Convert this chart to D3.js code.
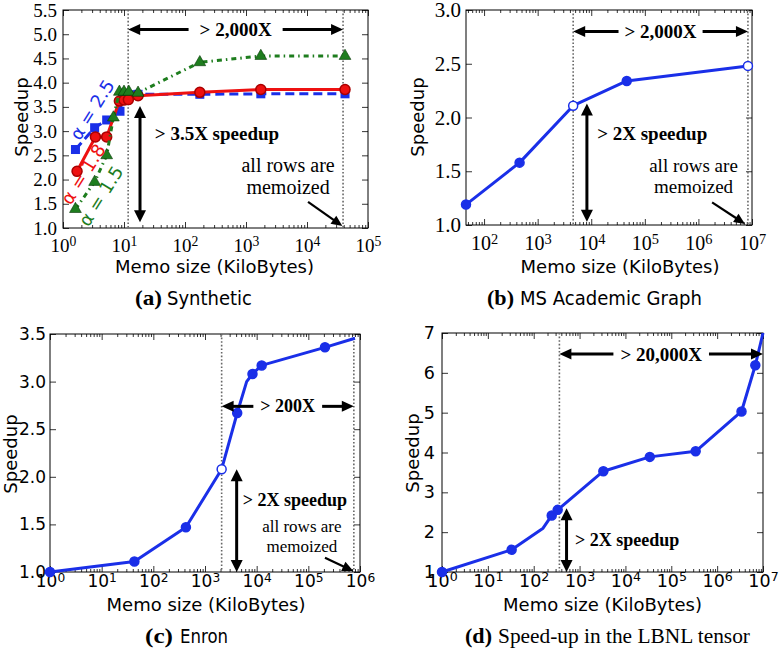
<!DOCTYPE html>
<html><head><meta charset="utf-8">
<script src="https://cdn.jsdelivr.net/npm/d3@7/dist/d3.min.js"></script>
<style>body{margin:0;background:#fff}</style>
</head><body>
<svg id="fig" width="780" height="653" xmlns="http://www.w3.org/2000/svg"></svg>
<script>
// ---------------- DATA ----------------
// (a) Synthetic: three Zipf skews
const synthX25 = [1.6, 3.3, 5.2, 8.6, 9.6, 11, 13, 17, 175, 1750, 42000];
const synthY25 = [2.62, 3.07, 3.23, 3.41, 3.74, 3.75, 3.75, 3.76, 3.76, 3.77, 3.77];
const synthX18 = [1.7, 3.4, 5.2, 8.4, 10, 11.8, 17, 175, 1750, 42000];
const synthY18 = [2.17, 2.88, 2.88, 3.62, 3.64, 3.65, 3.73, 3.80, 3.86, 3.86];
const synthX15 = [1.6, 3.3, 5.2, 6.7, 8.4, 10, 12, 17, 175, 1750, 42000];
const synthY15 = [1.39, 1.95, 2.5, 3.28, 3.81, 3.81, 3.81, 3.79, 4.42, 4.55, 4.55];
// (b) MS Academic Graph
const msagX = [46, 460, 4600, 46000, 8.4e6];
const msagY = [1.19, 1.58, 2.11, 2.34, 2.48];
// (c) Enron
const enronX = [1, 43, 427, 2100, 4200, 6400, 8300, 12500, 2.1e5, 8e5];
const enronY = [1.0, 1.11, 1.47, 2.08, 2.67, 3.0, 3.08, 3.17, 3.36, 3.455];
const enronMarkX = [1, 43, 427, 2100, 4200, 8300, 12500, 2.1e5];
const enronMarkY = [1.0, 1.11, 1.47, 2.08, 2.67, 3.08, 3.17, 3.36];
// (d) LBNL tensor
const lbnlX = [1, 33, 160, 247, 333, 3300, 34000, 3.4e5, 3.4e6, 6.8e6, 1e7];
const lbnlY = [1.0, 1.56, 2.10, 2.42, 2.56, 3.53, 3.89, 4.03, 5.03, 6.19, 7.0];
const lbnlMarkX = [1, 33, 247, 333, 3300, 34000, 3.4e5, 3.4e6, 6.8e6];
const lbnlMarkY = [1.0, 1.56, 2.42, 2.56, 3.53, 3.89, 4.03, 5.03, 6.19];
// tick labels
const yTicksA = [1.0, 1.5, 2.0, 2.5, 3.0, 3.5, 4.0, 4.5, 5.0, 5.5];
const yTicksB = [1.0, 1.5, 2.0, 2.5, 3.0];
const yTicksC = [1.0, 1.5, 2.0, 2.5, 3.0, 3.5];
const yTicksD = [1, 2, 3, 4, 5, 6, 7];
const alphaLabels = ["\u03b1 = 2.5", "\u03b1 = 1.8", "\u03b1 = 1.5"];
const xLabel = "Memo size (KiloBytes)";
const yLabel = "Speedup";

// ---------------- DRAWING ----------------
const svg = d3.select("#fig");
const BLUE = "#1a2fe8", RED = "#ee1111", GREEN = "#1e7d1e";
const SANS = "DejaVu Sans, sans-serif", SERIF = "Liberation Serif, Times New Roman, serif";

function zip(a, b) { return a.map((v, i) => [v, b[i]]); }

function arrowHead(g, tx, ty, dx, dy, len, hw) {
  const n = Math.hypot(dx, dy); dx /= n; dy /= n;
  const bx = tx - dx * len, by = ty - dy * len;
  const px = -dy, py = dx;
  g.append("path")
    .attr("d", `M${tx},${ty}L${bx + px * hw},${by + py * hw}L${bx - px * hw},${by - py * hw}Z`)
    .attr("fill", "#000");
}

function panel(p) {
  const g = svg.append("g");
  const [L, T, R, B] = p.box;
  const x = d3.scaleLog().domain(p.xDomain).range([L, R]);
  const y = d3.scaleLinear().domain(p.yDomain).range([B, T]);

  const lo = Math.ceil(Math.log10(p.xDomain[0]) - 1e-9), hi = Math.floor(Math.log10(p.xDomain[1]) + 1e-9);
  const majors = d3.range(lo, hi + 1).map(k => Math.pow(10, k));
  const minors = [];
  for (let k = lo - 1; k <= hi; k++) for (let m = 2; m <= 9; m++) {
    const v = m * Math.pow(10, k);
    if (v > p.xDomain[0] * 1.0001 && v < p.xDomain[1] * 0.9999) minors.push(v);
  }
  const axes = [
    [d3.axisBottom(x).tickValues(majors).tickSize(-6), B, true],
    [d3.axisBottom(x).tickValues(minors).tickSize(-3).tickFormat(""), B, false],
    [d3.axisTop(x).tickValues(majors).tickSize(-6).tickFormat(""), T, false],
    [d3.axisTop(x).tickValues(minors).tickSize(-3).tickFormat(""), T, false]
  ];
  axes.forEach(([ax, yy, lab]) => {
    const a = g.append("g").attr("transform", `translate(0,${yy})`).call(ax.tickSizeOuter(0));
    a.select(".domain").remove();
    a.selectAll(".tick line").attr("stroke", "#000").attr("stroke-width", 0.8);
    if (lab) {
      a.selectAll(".tick text").each(function (d) {
        const t = d3.select(this);
        t.text(null).attr("y", p.xLabOff).attr("dy", null)
          .attr("font-family", p.tickFont).attr("font-size", p.xTickSize).attr("fill", "#000");
        t.append("tspan").text("10");
        t.append("tspan").attr("dy", "-0.45em").attr("font-size", "0.72em").text(Math.round(Math.log10(d)));
      });
    }
  });
  const yl = g.append("g").attr("transform", `translate(${L},0)`)
    .call(d3.axisLeft(y).tickValues(p.yTicks).tickSize(-6).tickSizeOuter(0).tickFormat(p.yFmt));
  yl.select(".domain").remove();
  yl.selectAll(".tick line").attr("stroke", "#000").attr("stroke-width", 0.8);
  yl.selectAll(".tick text").attr("x", -p.yLabOff).attr("font-family", p.tickFont)
    .attr("font-size", p.yTickSize).attr("fill", "#000");
  const yr = g.append("g").attr("transform", `translate(${R},0)`)
    .call(d3.axisRight(y).tickValues(p.yTicks).tickSize(-6).tickSizeOuter(0).tickFormat(""));
  yr.select(".domain").remove();
  yr.selectAll(".tick line").attr("stroke", "#000").attr("stroke-width", 0.8);

  g.append("rect").attr("x", L).attr("y", T).attr("width", R - L).attr("height", B - T)
    .attr("fill", "none").attr("stroke", "#000").attr("stroke-width", 1);

  g.append("text").attr("x", (L + R) / 2 + p.xTitleDx).attr("y", p.xTitleY)
    .attr("text-anchor", "middle").attr("font-family", SANS).attr("font-size", 18).text(xLabel);
  g.append("text").attr("transform", `translate(${p.yTitleX},${p.yTitleY}) rotate(-90)`)
    .attr("text-anchor", "middle").attr("dy", "0.35em")
    .attr("font-family", SANS).attr("font-size", 18).text(yLabel);

  (p.vlines || []).forEach(v => {
    g.append("line").attr("x1", x(v)).attr("x2", x(v)).attr("y1", T).attr("y2", B)
      .attr("stroke", "#666").attr("stroke-width", 1.6).attr("stroke-dasharray", "1.6,2");
  });
  return { g, x, y };
}

function drawSeries(P, xs, ys, mxs, mys, color, opts) {
  const { g, x, y } = P;
  const line = d3.line().x(d => x(d[0])).y(d => y(d[1]));
  g.append("path").datum(zip(xs, ys)).attr("d", line).attr("fill", "none")
    .attr("stroke", color).attr("stroke-width", opts.lw || 3)
    .attr("stroke-linejoin", "round")
    .attr("stroke-dasharray", opts.dash || null);
  const pts = zip(mxs, mys);
  const hollow = opts.hollow || [];
  if (opts.marker === "circle") {
    g.selectAll(null).data(pts).enter().append("circle")
      .attr("cx", d => x(d[0])).attr("cy", d => y(d[1])).attr("r", opts.r || 4.5)
      .attr("fill", d => hollow.some(h => Math.abs(h - d[0]) / d[0] < 0.01) ? "#fff" : color)
      .attr("stroke", opts.edge || color).attr("stroke-width", 1.5);
  } else if (opts.marker === "square") {
    g.selectAll(null).data(pts).enter().append("rect")
      .attr("x", d => x(d[0]) - 4.5).attr("y", d => y(d[1]) - 4.5)
      .attr("width", 9).attr("height", 9).attr("fill", color);
  } else if (opts.marker === "triangle") {
    g.selectAll(null).data(pts).enter().append("path")
      .attr("transform", d => `translate(${x(d[0])},${y(d[1])})`)
      .attr("d", d3.symbol(d3.symbolTriangle, 60)).attr("fill", color)
      .attr("stroke", "#063806").attr("stroke-width", 0.6);
  }
}

function hArrow(P, yv, xa, xb, label, fs, gap) {
  const { g, x, y } = P;
  const x1 = x(xa), x2 = x(xb), yy = y(yv), cx = (x1 + x2) / 2;
  const t = g.append("text").attr("x", cx).attr("y", yy).attr("dy", "0.34em").attr("text-anchor", "middle")
    .attr("font-family", SERIF).attr("font-weight", "bold").attr("font-size", fs).text(label);
  const w = t.node().getComputedTextLength();
  g.append("line").attr("x1", x1 + 8).attr("x2", cx - w / 2 - gap).attr("y1", yy).attr("y2", yy)
    .attr("stroke", "#000").attr("stroke-width", 3);
  g.append("line").attr("x1", cx + w / 2 + gap).attr("x2", x2 - 8).attr("y1", yy).attr("y2", yy)
    .attr("stroke", "#000").attr("stroke-width", 3);
  arrowHead(g, x1, yy, -1, 0, 12, 5.5);
  arrowHead(g, x2, yy, 1, 0, 12, 5.5);
}

function vArrow(P, xv, ya, yb, label, lx, ly, fs) {
  const { g, x, y } = P;
  const xx = x(xv), yTop = y(ya), yBot = y(yb);
  g.append("line").attr("x1", xx).attr("x2", xx).attr("y1", yTop + 8).attr("y2", yBot - 8)
    .attr("stroke", "#000").attr("stroke-width", 3);
  arrowHead(g, xx, yTop, 0, -1, 12, 6);
  arrowHead(g, xx, yBot, 0, 1, 12, 6);
  g.append("text").attr("x", x(lx)).attr("y", y(ly))
    .attr("font-family", SERIF).attr("font-weight", "bold").attr("font-size", fs).text(label);
}

function memoNote(P, cxv, y1v, y2v, fs, ax0, ay0, ax1, ay1) {
  const { g, x, y } = P;
  g.append("text").attr("x", x(cxv)).attr("y", y(y1v)).attr("text-anchor", "middle")
    .attr("font-family", SERIF).attr("font-size", fs).text("all rows are");
  g.append("text").attr("x", x(cxv)).attr("y", y(y2v)).attr("text-anchor", "middle")
    .attr("font-family", SERIF).attr("font-size", fs).text("memoized");
  const sx = x(ax0), sy = y(ay0), ex = x(ax1), ey = y(ay1);
  const n = Math.hypot(ex - sx, ey - sy);
  g.append("line").attr("x1", sx).attr("y1", sy)
    .attr("x2", ex - (ex - sx) / n * 9).attr("y2", ey - (ey - sy) / n * 9)
    .attr("stroke", "#000").attr("stroke-width", 2.2);
  arrowHead(g, ex, ey, ex - sx, ey - sy, 11, 5);
}

function caption(lbl, lx, lw, txt, tx, tw, yb, font, fs) {
  svg.append("text").attr("x", lx).attr("y", yb).attr("font-family", SERIF).attr("font-weight", "bold")
    .attr("font-size", 22).attr("textLength", lw).attr("lengthAdjust", "spacingAndGlyphs").text(lbl);
  svg.append("text").attr("x", tx).attr("y", yb).attr("font-family", font)
    .attr("font-size", fs).attr("textLength", tw).attr("lengthAdjust", "spacingAndGlyphs").text(txt);
}

// ---- (a) ----
const A = panel({
  box: [63, 10, 368, 228], xDomain: [1, 1e5], yDomain: [1, 5.5], yTicks: yTicksA,
  yFmt: d3.format(".1f"), tickFont: SERIF, xTickSize: 19, yTickSize: 19, xLabOff: 24, yLabOff: 6,
  xTitleY: 273, xTitleDx: -1, yTitleX: 22, yTitleY: 117, vlines: [11.7, 39000]
});
drawSeries(A, synthX25, synthY25, synthX25, synthY25, BLUE, { dash: "9,5", marker: "square" });
drawSeries(A, synthX18, synthY18, synthX18, synthY18, RED, { marker: "circle", r: 5, edge: "#a00" });
drawSeries(A, synthX15, synthY15, synthX15, synthY15, GREEN, { dash: "5,4,1.5,4", marker: "triangle" });
[[alphaLabels[0], 3.0, 3.44, BLUE], [alphaLabels[1], 2.15, 2.11, RED], [alphaLabels[2], 4.2, 1.66, GREEN]]
  .forEach(([t, xv, yv, c]) => {
    A.g.append("text").attr("transform", `translate(${A.x(xv)},${A.y(yv)}) rotate(-58)`)
      .attr("text-anchor", "middle").attr("dy", "0.35em").attr("font-family", SANS)
      .attr("font-size", 18).attr("fill", c).text(t);
  });
hArrow(A, 5.1, 11.7, 39000, "> 2,000X", 19, 11);
vArrow(A, 18.3, 3.52, 1.12, "> 3.5X speedup", 32, 2.82, 19);
memoNote(A, 4900, 2.16, 1.70, 20, 10400, 1.54, 38000, 1.04);

// ---- (b) ----
const Bp = panel({
  box: [466, 10, 752, 225], xDomain: [46, 1e7], yDomain: [1, 3], yTicks: yTicksB,
  yFmt: d3.format(".1f"), tickFont: SERIF, xTickSize: 20, yTickSize: 21, xLabOff: 25, yLabOff: 5,
  xTitleY: 273, xTitleDx: 11, yTitleX: 418, yTitleY: 117, vlines: [4600, 8.4e6]
});
drawSeries(Bp, msagX, msagY, msagX, msagY, BLUE, { marker: "circle", hollow: [4600, 8.4e6] });
hArrow(Bp, 2.80, 4600, 8.4e6, "> 2,000X", 19, 6);
vArrow(Bp, 8300, 2.13, 1.03, "> 2X speedup", 12900, 1.79, 19);
memoNote(Bp, 8.1e5, 1.49, 1.30, 19, 1.8e6, 1.21, 7.4e6, 1.01);

// ---- (c) ----
const Cp = panel({
  box: [50, 334, 360, 572], xDomain: [1, 1e6], yDomain: [1, 3.5], yTicks: yTicksC,
  yFmt: d3.format(".1f"), tickFont: SANS, xTickSize: 17, yTickSize: 17, xLabOff: 15, yLabOff: 4,
  xTitleY: 611, xTitleDx: 1, yTitleX: 11, yTitleY: 454, vlines: [2100, 7.6e5]
});
drawSeries(Cp, enronX, enronY, enronMarkX, enronMarkY, BLUE, { marker: "circle", hollow: [2100] });
hArrow(Cp, 2.74, 2100, 7.6e5, "> 200X", 18, 7);
vArrow(Cp, 4100, 2.08, 1.0, "> 2X speedup", 5400, 1.69, 18);
memoNote(Cp, 7.5e4, 1.42, 1.21, 17, 2.1e5, 1.15, 7.4e5, 1.01);

// ---- (d) ----
const Dp = panel({
  box: [442, 333, 763, 572], xDomain: [1, 1e7], yDomain: [1, 7], yTicks: yTicksD,
  yFmt: d3.format("d"), tickFont: SANS, xTickSize: 17.5, yTickSize: 17.5, xLabOff: 15, yLabOff: 7,
  xTitleY: 611, xTitleDx: 0, yTitleX: 413, yTitleY: 453, vlines: [363]
});
drawSeries(Dp, lbnlX, lbnlY, lbnlMarkX, lbnlMarkY, BLUE, { marker: "circle" });
hArrow(Dp, 6.47, 363, 1e7, "> 20,000X", 19, 7);
vArrow(Dp, 520, 2.6, 1.0, "> 2X speedup", 790, 1.65, 18);

// captions
caption("(a)", 135, 27, "Synthetic", 167, 85, 305, SANS, 20);
caption("(b)", 487, 27, "MS Academic Graph", 520, 182, 305, SANS, 20);
caption("(c)", 145, 28, "Enron", 180, 48, 643, SANS, 20);
caption("(d)", 465, 27, "Speed-up in the LBNL tensor", 498, 252, 643, SERIF, 21);
</script>
</body></html>
